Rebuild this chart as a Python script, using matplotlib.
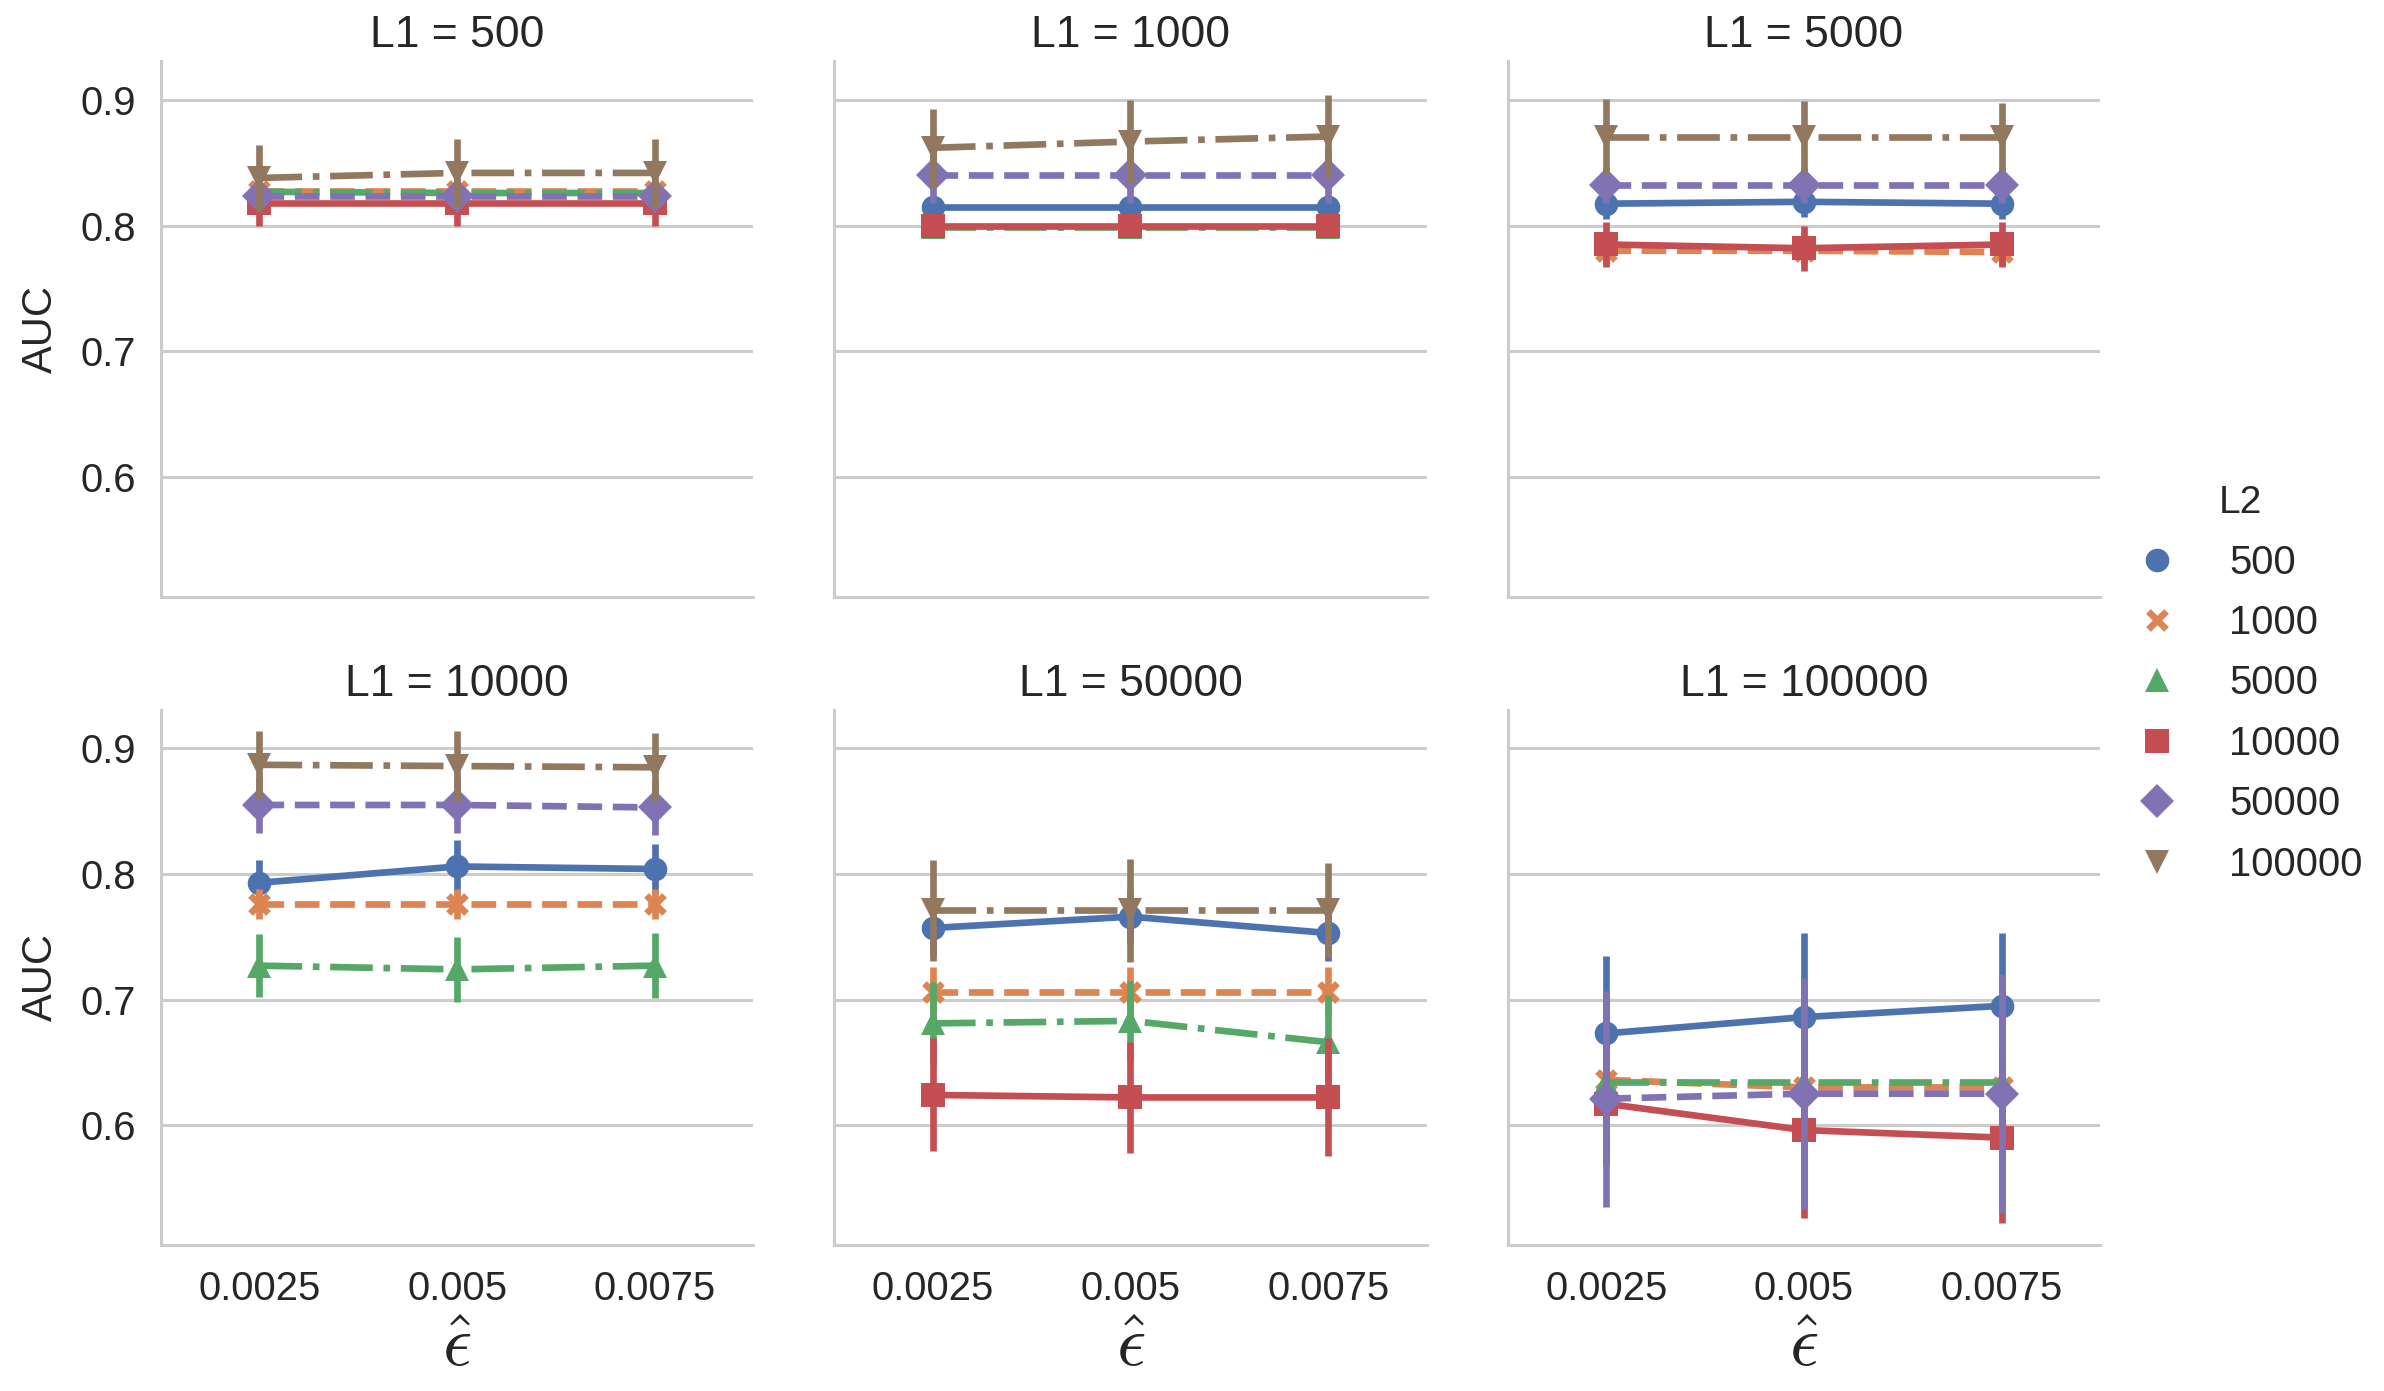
import numpy as np
import matplotlib.pyplot as plt
import seaborn as sns
from matplotlib.lines import Line2D

sns.set_style("whitegrid")
plt.rcParams['font.family'] = ['Liberation Sans', 'DejaVu Sans']
plt.rcParams['mathtext.fontset'] = 'cm'

# categorie
eps_labels = ["0.0025", "0.005", "0.0075"]
l1_values = [500, 1000, 5000, 10000, 50000, 100000]
l2_values = [500, 1000, 5000, 10000, 50000, 100000]

nan = np.nan

# AUC medio: righe = L2 (500 ... 100000), colonne = epsilon
auc_500 = [[nan, nan, nan],
           [0.828, 0.828, 0.828],
           [0.827, 0.826, 0.826],
           [0.818, 0.818, 0.818],
           [0.824, 0.824, 0.824],
           [0.838, 0.842, 0.842]]
ci_500 = [[nan, nan, nan],
          [0.005, 0.005, 0.005],
          [0.005, 0.005, 0.005],
          [0.018, 0.018, 0.018],
          [0.008, 0.008, 0.008],
          [0.026, 0.027, 0.027]]

auc_1000 = [[0.815, 0.815, 0.815],
            [nan, nan, nan],
            [0.799, 0.799, 0.799],
            [0.7995, 0.7995, 0.7995],
            [0.840, 0.840, 0.840],
            [0.862, 0.867, 0.871]]
ci_1000 = [[0.004, 0.004, 0.004],
           [nan, nan, nan],
           [0.003, 0.003, 0.003],
           [0.003, 0.003, 0.003],
           [0.022, 0.022, 0.022],
           [0.031, 0.033, 0.033]]

auc_5000 = [[0.8175, 0.819, 0.8175],
            [0.780, 0.780, 0.779],
            [nan, nan, nan],
            [0.785, 0.782, 0.785],
            [0.832, 0.832, 0.832],
            [0.871, 0.871, 0.871]]
ci_5000 = [[0.012, 0.012, 0.012],
           [0.010, 0.010, 0.010],
           [nan, nan, nan],
           [0.018, 0.018, 0.018],
           [0.014, 0.014, 0.014],
           [0.030, 0.028, 0.027]]

auc_10000 = [[0.793, 0.806, 0.804],
             [0.776, 0.776, 0.776],
             [0.727, 0.724, 0.727],
             [nan, nan, nan],
             [0.855, 0.855, 0.853],
             [0.887, 0.886, 0.885]]
ci_10000 = [[0.018, 0.021, 0.020],
            [0.012, 0.012, 0.012],
            [0.025, 0.026, 0.026],
            [nan, nan, nan],
            [0.022, 0.022, 0.022],
            [0.027, 0.028, 0.027]]

auc_50000 = [[0.757, 0.766, 0.753],
             [0.706, 0.706, 0.706],
             [0.681, 0.683, 0.666],
             [0.624, 0.622, 0.622],
             [nan, nan, nan],
             [0.771, 0.771, 0.771]]
ci_50000 = [[0.022, 0.022, 0.022],
            [0.020, 0.020, 0.020],
            [0.033, 0.032, 0.038],
            [0.045, 0.044, 0.047],
            [nan, nan, nan],
            [0.040, 0.041, 0.038]]

auc_100000 = [[0.673, 0.686, 0.695],
              [0.636, 0.630, 0.630],
              [0.634, 0.634, 0.634],
              [0.617, 0.596, 0.590],
              [0.621, 0.625, 0.625],
              [nan, nan, nan]]
ci_100000 = [[0.062, 0.067, 0.058],
             [0.020, 0.020, 0.020],
             [0.020, 0.020, 0.020],
             [0.050, 0.070, 0.068],
             [0.086, 0.092, 0.095],
             [nan, nan, nan]]

auc_all = [auc_500, auc_1000, auc_5000, auc_10000, auc_50000, auc_100000]
ci_all = [ci_500, ci_1000, ci_5000, ci_10000, ci_50000, ci_100000]

colori = sns.color_palette("deep", 6)
marker = ['o', 'x', '^', 's', 'D', 'v']
stili = ['-', '--', '-.', '-', '--', '-.']


def stile_marker(j):
    # la x e' disegnata col bordo, gli altri pieni
    if marker[j] == 'x':
        return dict(ms=6.5, mew=2.4)
    return dict(ms=8.5, mew=0)


lw = 2.4
fig, axes = plt.subplots(2, 3, figsize=(11.92, 6.955), dpi=200, sharex=True, sharey=True)
fig.subplots_adjust(left=0.0674, right=0.881, top=0.956, bottom=0.105, wspace=0.136, hspace=0.211)

x = np.arange(len(eps_labels))
for k, ax in enumerate(axes.flat):
    auc = np.array(auc_all[k])
    ci = np.array(ci_all[k])
    for j in range(len(l2_values)):
        if np.isnan(auc[j]).all():
            continue
        c = colori[j]
        ax.plot(x, auc[j], color=c, lw=lw, ls=stili[j], zorder=2 + j)
        ax.vlines(x, auc[j] - ci[j], auc[j] + ci[j], color=c, lw=lw, zorder=2 + j)
        ax.plot(x, auc[j], ls='none', marker=marker[j], color=c, mec=c,
                zorder=2 + j, **stile_marker(j))
    ax.set_title("L1 = %d" % l1_values[k], fontsize=16, pad=5, color='#262626')
    ax.set_xlim(-0.5, 2.5)
    ax.set_ylim(0.5045, 0.931)
    ax.set_yticks([0.6, 0.7, 0.8, 0.9])
    ax.set_xticks(x)
    ax.set_xticklabels(eps_labels)
    ax.xaxis.grid(False)
    ax.yaxis.grid(True, color='#cccccc', lw=1.1)
    for s in ['top', 'right']:
        ax.spines[s].set_visible(False)
    for s in ['left', 'bottom']:
        ax.spines[s].set_color('#cccccc')
        ax.spines[s].set_linewidth(1.1)
    ax.tick_params(axis='both', labelsize=14.4, length=0, pad=9, colors='#262626')
    if k % 3 == 0:
        ax.set_ylabel("AUC", fontsize=15, labelpad=7, color='#262626')
    if k >= 3:
        ax.set_xlabel(r"$\hat{\epsilon}$", fontsize=26, labelpad=2)

# legenda con i soli marker
maniglie = []
for j in range(len(l2_values)):
    maniglie.append(Line2D([], [], ls='none', marker=marker[j], color=colori[j],
                           mec=colori[j], **stile_marker(j)))
leg = fig.legend(maniglie, [str(v) for v in l2_values], title="L2", loc='center left',
                 bbox_to_anchor=(0.873, 0.508), frameon=False, fontsize=14.4,
                 title_fontsize=14, labelspacing=0.56)

plt.savefig("out.png", dpi=200)
